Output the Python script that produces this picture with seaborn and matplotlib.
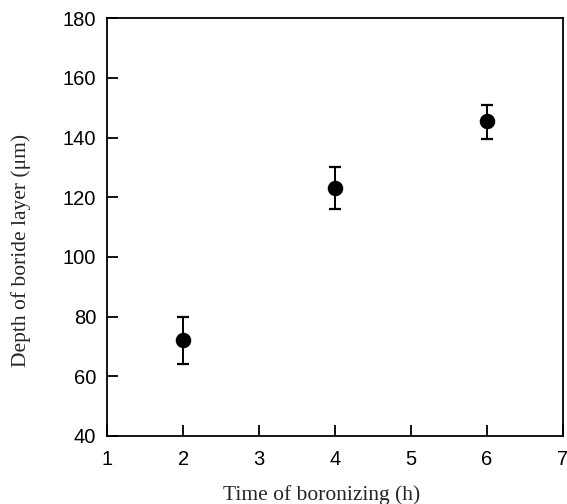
import numpy as np
import pandas as pd
import matplotlib
matplotlib.use("Agg")
import matplotlib.pyplot as plt
import seaborn as sns

# data
time_h = [2, 4, 6]
depth_um = [72, 123, 145.5]
err_low = [8, 7, 6]
err_high = [8, 7, 5.5]

sns.set_theme(style="ticks")
plt.rcParams['font.family'] = ['Liberation Sans', 'DejaVu Sans']

df = pd.DataFrame({"time": time_h, "depth": depth_um})

fig = plt.figure(figsize=(5.67, 5.04), dpi=100)
ax = fig.add_axes([0.189, 0.135, 0.804, 0.829])

ax.errorbar(df["time"], df["depth"], yerr=[err_low, err_high], fmt="none",
            ecolor="black", elinewidth=1.4, capsize=4.5, capthick=1.6, zorder=2)
sns.scatterplot(data=df, x="time", y="depth", ax=ax, color="black", s=125,
                edgecolor="black", linewidth=0, zorder=3)

ax.set_xlim(1, 7)
ax.set_ylim(40, 180)
ax.set_xticks(range(1, 8))
ax.set_yticks(range(40, 181, 20))
ax.tick_params(direction="in", length=8, width=1.3, labelsize=14.5, colors="black")
ax.tick_params(axis="x", pad=10)
ax.tick_params(axis="y", pad=8)
for s in ax.spines.values():
    s.set_linewidth(1.3)
    s.set_color("black")

ax.set_xlabel("Time of boronizing (h)", family=["Liberation Serif"], fontsize=15.5)
ax.set_ylabel("Depth of boride layer (\u03bcm)", family=["Liberation Serif"], fontsize=15.5)
ax.xaxis.set_label_coords(0.47, -0.118)
ax.yaxis.set_label_coords(-0.168, 0.445)

fig.savefig("out.png", dpi=100)
